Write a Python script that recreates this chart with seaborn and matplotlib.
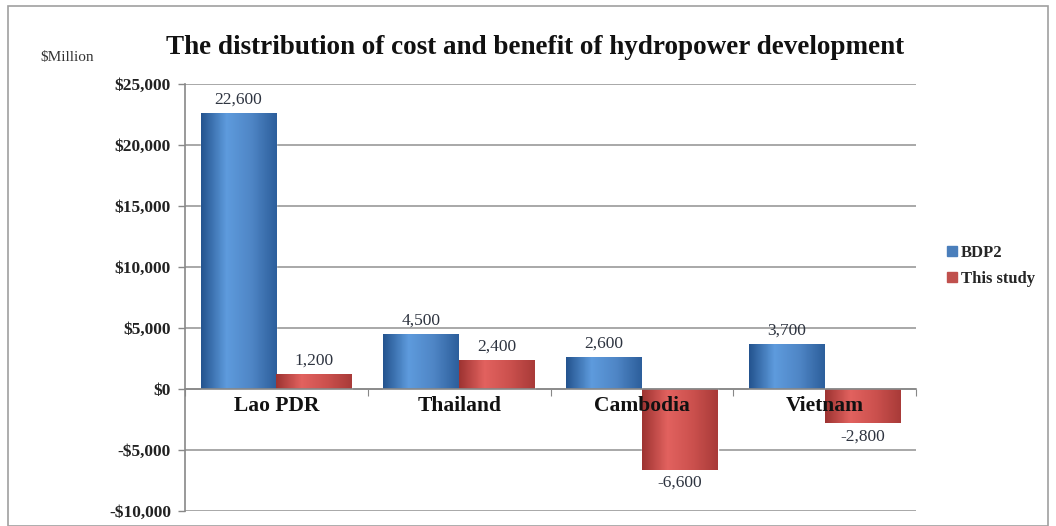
import matplotlib.pyplot as plt
import matplotlib.patches as mpatches
from matplotlib.colors import LinearSegmentedColormap
from matplotlib.ticker import FuncFormatter
import numpy as np
import pandas as pd
import seaborn as sns

countries = ["Lao PDR", "Thailand", "Cambodia", "Vietnam"]
series = ["BDP2", "This study"]
bdp2 = [22600, 4500, 2600, 3700]
this_study = [1200, 2400, -6600, -2800]

df = pd.DataFrame({
    "country": countries * 2,
    "series": [series[0]] * 4 + [series[1]] * 4,
    "value": bdp2 + this_study,
})

sns.set_style("white")
plt.rcParams["font.family"] = ["Liberation Serif", "DejaVu Serif"]

colors = {"BDP2": "#4A7EBB", "This study": "#C0504D"}
shades = {
    "BDP2": ["#24548F", "#5E9BDD", "#4F86C6", "#2D5F9C"],
    "This study": ["#9E3432", "#E2625F", "#CC514E", "#A93B39"],
}

fig = plt.figure(figsize=(10.56, 5.26), dpi=100)
ax = fig.add_axes([185 / 1056, 1 - 511 / 526, (916 - 185) / 1056, (511 - 84) / 526])

sns.barplot(data=df, x="country", y="value", hue="series", palette=colors,
            width=0.83, gap=0, ax=ax, legend=False, errorbar=None, saturation=1)

# cylinder-like shading on each bar
for cont, name in zip(ax.containers, series):
    cmap = LinearSegmentedColormap.from_list(name, shades[name])
    grad = np.linspace(0, 1, 64).reshape(1, -1)
    for p in cont:
        x, y = p.get_x(), p.get_y()
        w, h = p.get_width(), p.get_height()
        im = ax.imshow(grad, cmap=cmap, aspect="auto", zorder=p.get_zorder() + 0.1,
                       extent=[x, x + w, min(y, y + h), max(y, y + h)])
        im.set_clip_path(p)
    ax.bar_label(cont, labels=[f"{v:,.0f}" for v in cont.datavalues],
                 padding=4, fontsize=12.5, color="#2E3440", zorder=5)

ax.set_xlim(-0.5, 3.5)
ax.set_ylim(-10000, 25000)
ax.set_yticks(np.arange(-10000, 25001, 5000))
ax.yaxis.set_major_formatter(FuncFormatter(
    lambda v, _: f"${v:,.0f}" if v >= 0 else f"-${-v:,.0f}"))
ax.tick_params(axis="y", labelsize=12.5, labelcolor="#222222", length=5,
               width=1, color="#888888", direction="out", left=True, pad=5)
for lab in ax.get_yticklabels():
    lab.set_fontweight("bold")
ax.grid(axis="y", color="#9A9A9A", linewidth=1.2)
ax.set_axisbelow(True)

# category axis sits on the zero line
ax.spines["bottom"].set_position(("data", 0))
ax.spines["bottom"].set_color("#888888")
ax.spines["bottom"].set_linewidth(1.2)
ax.set_xticks([-0.5, 0.5, 1.5, 2.5, 3.5])
ax.set_xticklabels([])
ax.tick_params(axis="x", which="major", length=5, color="#888888", direction="out", bottom=True)
ax.set_xlabel("")
ax.set_ylabel("")
for i, name in enumerate(countries):
    ax.annotate(name, xy=(i, 0), xytext=(0, -5), textcoords="offset points",
                ha="center", va="top", fontsize=15.5, fontweight="bold",
                color="#111111", zorder=10)

for s in ["top", "right"]:
    ax.spines[s].set_visible(False)
ax.spines["left"].set_color("#888888")
ax.spines["left"].set_linewidth(1.2)

fig.text(535 / 1056, 1 - 48 / 526, "The distribution of cost and benefit of hydropower development",
         ha="center", va="center", fontsize=19.5, fontweight="bold", color="#111111")
fig.text(40 / 1056, 1 - 58 / 526, "$Million", ha="left", va="center", fontsize=11, color="#333333")

handles = [mpatches.Patch(color=colors[s], label=s) for s in series]
leg = fig.legend(handles=handles, loc="center left", bbox_to_anchor=(932 / 1056, 1 - 266 / 526),
                 frameon=False, fontsize=12, handlelength=0.6, handleheight=0.6,
                 handletextpad=0.25, labelspacing=0.6)
for t in leg.get_texts():
    t.set_fontweight("bold")

fig.patches.append(mpatches.Rectangle((8 / 1056, 0.0), 1040 / 1056, 1 - 6 / 526,
                                      transform=fig.transFigure, fill=False,
                                      edgecolor="#A0A0A0", linewidth=1.2))

fig.savefig("out.png", dpi=100)
